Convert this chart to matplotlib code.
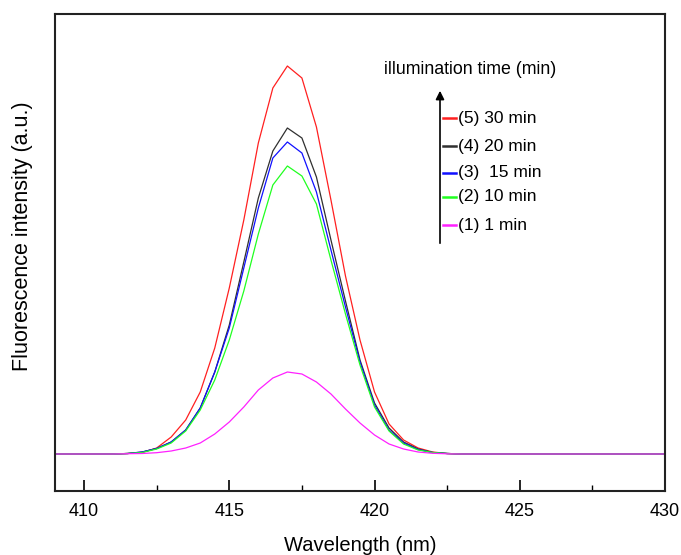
import matplotlib
matplotlib.use("Agg")
import matplotlib.pyplot as plt
import numpy as np

plt.rcParams['font.family'] = ['Liberation Sans', 'DejaVu Sans']

# wavelength grid (nm), 0.5 nm steps from 409 to 430
wl = np.arange(409, 430.5, 0.5)

# fluorescence intensity (a.u.)
# values 409 .. 410.5 and 423 .. 430 are baseline (0)
lead = [0, 0, 0, 0]
tail = [0] * 15
i_30 = lead + [0, 0.5, 1.5, 6, 17, 34, 62, 106, 166, 234, 311, 366, 388, 376, 327,
               254, 178, 114, 62, 30, 14, 6, 2, 0.5] + tail
i_20 = lead + [0, 0.5, 2, 5.5, 12, 24, 46, 82, 129, 192, 256, 303, 326, 316, 277,
               214, 153, 94, 51, 26, 12, 5, 1.5, 0.5] + tail
i_15 = lead + [0, 0.5, 2, 5.5, 12, 24, 46, 82, 126, 186, 246, 296, 312, 301, 262,
               204, 147, 92, 49, 24, 11, 4.5, 1.5, 0.5] + tail
i_10 = lead + [0, 0.5, 1.5, 5, 11, 23, 44, 74, 114, 163, 220, 269, 288, 278, 250,
               194, 140, 89, 47, 23, 10, 4, 1.5, 0.5] + tail
i_1 = lead + [0, 0.3, 0.5, 1.3, 3, 6, 11, 20, 32, 47, 64, 76, 82, 80, 72,
              60, 45, 31, 19, 10, 5, 2, 0.7, 0.2] + tail

series = [i_30, i_20, i_15, i_10, i_1]
colors = ['#ff2020', '#303030', '#1010ff', '#20ff20', '#ff20ff']
labels = ['(5) 30 min', '(4) 20 min', '(3)  15 min', '(2) 10 min', '(1) 1 min']

W, H = 681, 555
fig = plt.figure(figsize=(W / 100, H / 100), dpi=100)
ax = fig.add_axes([55 / W, 1 - 491 / H, 610 / W, 477 / H])

for ys, c in zip(series, colors):
    ax.plot(wl, ys, color=c, lw=0.9)

ax.set_xlim(409, 430)
ax.set_ylim(-37, 440)
ax.set_xticks([410, 415, 420, 425, 430])
ax.set_xticks([412.5, 417.5, 422.5, 427.5], minor=True)
ax.set_yticks([])
ax.tick_params(axis='x', which='major', direction='in', length=8, width=1.2,
               labelsize=13, pad=9, top=False)
ax.tick_params(axis='x', which='minor', direction='in', length=4, width=1.0, top=False)
for s in ax.spines.values():
    s.set_linewidth(1.5)
    s.set_color('#222222')

ax.set_xlabel('Wavelength (nm)', fontsize=14.5, labelpad=11)
ax.set_ylabel('Fluorescence intensity (a.u.)', fontsize=15.5)
ax.yaxis.set_label_coords(-0.036, 0.535)

# legend drawn as an arrow with coloured ticks
def fx(px):
    return px / W

def fy(py):
    return 1 - py / H

fig.text(fx(470), fy(69), 'illumination time (min)', fontsize=12.8, ha='center', va='center')
fig.add_artist(matplotlib.patches.FancyArrowPatch(
    (fx(440), fy(246)), (fx(440), fy(88)), transform=fig.transFigure,
    arrowstyle='-|>,head_length=5,head_width=2.5', color='black', lw=1.2))
rows = [118, 146, 173, 197, 225]
for ry, c, lab in zip(rows, colors, labels):
    fig.add_artist(plt.Line2D([fx(443), fx(456)], [fy(ry), fy(ry)],
                              transform=fig.transFigure, color=c, lw=1.8))
    fig.text(fx(458), fy(ry), lab, fontsize=12.5, ha='left', va='center')

fig.savefig('out.png', dpi=100)
